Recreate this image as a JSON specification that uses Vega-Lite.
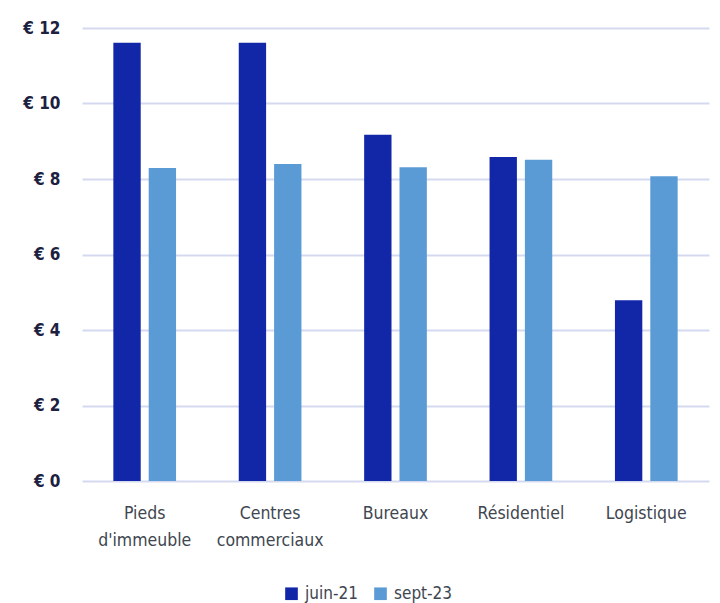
{
  "$schema": "https://vega.github.io/schema/vega-lite/v6.json",
  "width": 627,
  "height": 453,
  "autosize": {"type": "none"},
  "padding": {"left": 82, "top": 28, "right": 11, "bottom": 122},
  "background": "white",
  "data": {
    "values": [
      {"cat": "Pieds d'immeuble", "period": "juin-21", "value": 11.61},
      {"cat": "Pieds d'immeuble", "period": "sept-23", "value": 8.29},
      {"cat": "Centres commerciaux", "period": "juin-21", "value": 11.61},
      {"cat": "Centres commerciaux", "period": "sept-23", "value": 8.4},
      {"cat": "Bureaux", "period": "juin-21", "value": 9.17},
      {"cat": "Bureaux", "period": "sept-23", "value": 8.31},
      {"cat": "Résidentiel", "period": "juin-21", "value": 8.58},
      {"cat": "Résidentiel", "period": "sept-23", "value": 8.51},
      {"cat": "Logistique", "period": "juin-21", "value": 4.79},
      {"cat": "Logistique", "period": "sept-23", "value": 8.07}
    ]
  },
  "config": {
    "view": {"stroke": null},
    "font": "DejaVu Sans Condensed, Roboto, sans-serif"
  },
  "mark": {"type": "bar"},
  "encoding": {
    "x": {
      "field": "cat",
      "type": "nominal",
      "sort": null,
      "scale": {"paddingInner": 0.5, "paddingOuter": 0.25},
      "axis": {
        "title": null,
        "labelAngle": 0,
        "domain": false,
        "ticks": false,
        "labelExpr": "split(datum.label, ' ')",
        "labelFont": "DejaVu Sans Condensed, Roboto, sans-serif",
        "labelFontSize": 17.5,
        "labelColor": "#404650",
        "labelPadding": 32,
        "labelLineHeight": 27,
        "labelBaseline": "middle"
      }
    },
    "xOffset": {
      "field": "period",
      "type": "nominal",
      "scale": {"paddingInner": 0.226, "paddingOuter": 0}
    },
    "y": {
      "field": "value",
      "type": "quantitative",
      "scale": {"domain": [0, 12]},
      "axis": {
        "title": null,
        "values": [0, 2, 4, 6, 8, 10, 12],
        "labelExpr": "'€ ' + datum.value",
        "domain": false,
        "ticks": false,
        "grid": true,
        "gridColor": "#d5d9ef",
        "gridWidth": 2,
        "labelFont": "DejaVu Sans Condensed, Roboto, sans-serif",
        "labelFontWeight": "bold",
        "labelFontSize": 17,
        "labelColor": "#1c2140",
        "labelPadding": 22
      }
    },
    "color": {
      "field": "period",
      "type": "nominal",
      "scale": {"domain": ["juin-21", "sept-23"], "range": ["#1226a8", "#5b9bd5"]},
      "legend": {
        "title": null,
        "orient": "none",
        "direction": "horizontal",
        "legendX": 201,
        "legendY": 557,
        "symbolType": "square",
        "symbolSize": 160,
        "symbolStrokeWidth": 0,
        "labelFont": "DejaVu Sans Condensed, Roboto, sans-serif",
        "labelFontSize": 17,
        "labelColor": "#404650",
        "columnPadding": 14,
        "labelOffset": 5
      }
    }
  }
}
